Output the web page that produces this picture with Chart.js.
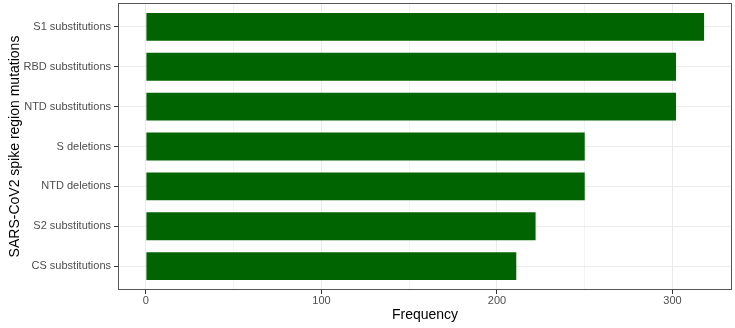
<!DOCTYPE html>
<html>
<head>
<meta charset="utf-8">
<title>SARS-CoV2 spike region mutations</title>
<script src="https://cdn.jsdelivr.net/npm/chart.js@4/dist/chart.umd.min.js"></script>
<style>
    html, body { margin: 0; padding: 0; background: #fff; }
    #chart { display: block; }
</style>
</head>
<body>
<canvas id="chart" width="735" height="328"></canvas>
<script>
/****************** DONNEES **********************/

var categories = ["S1 substitutions", "RBD substitutions", "NTD substitutions", "S deletions",
                  "NTD deletions", "S2 substitutions", "CS substitutions"];
var frequencies = [318, 302, 302, 250, 250, 222, 211];
var xMajorTicks = [0, 100, 200, 300];
var xMinorTicks = [50, 150, 250];

/****************** FONCTION **********************/

// cadre du panneau, comme theme_bw
var panelBorder = {
    id: 'panelBorder',
    afterDatasetsDraw: function (chart) {
        var a = chart.chartArea;
        var ctx = chart.ctx;
        ctx.save();
        ctx.strokeStyle = '#555555';
        ctx.lineWidth = 1;
        ctx.strokeRect(Math.round(a.left) + 0.5, Math.round(a.top) + 0.5,
                       Math.round(a.right - a.left) - 1, Math.round(a.bottom - a.top) - 1);
        ctx.restore();
    }
};

function makeMutationChart()
{
    var ctx = document.getElementById("chart").getContext("2d");
    var allX = xMajorTicks.concat(xMinorTicks).sort(function (a, b) { return a - b; });
    var xMax = Math.max.apply(null, frequencies);
    var xPad = xMax * 0.05;

    new Chart(ctx, {
        type: 'bar',
        data: {
            datasets: [{
                data: frequencies.map(function (v, i) { return { x: v, y: i }; }),
                backgroundColor: '#006400',
                borderWidth: 0,
                categoryPercentage: 1,
                barPercentage: 0.7
            }]
        },
        plugins: [panelBorder],
        options: {
            indexAxis: 'y',
            responsive: false,
            animation: false,
            layout: { padding: { top: 3, right: 3, left: 0, bottom: 0 } },
            plugins: {
                legend: { display: false },
                tooltip: { enabled: false }
            },
            scales: {
                x: {
                    type: 'linear',
                    min: -xPad,
                    max: xMax + xPad,
                    afterBuildTicks: function (scale) {
                        scale.ticks = allX.map(function (v) { return { value: v }; });
                    },
                    grid: {
                        color: function (c) {
                            return xMajorTicks.indexOf(c.tick.value) >= 0 ? '#ebebeb' : '#f3f3f3';
                        },
                        tickColor: function (c) {
                            return xMajorTicks.indexOf(c.tick.value) >= 0 ? '#333333' : 'rgba(0,0,0,0)';
                        },
                        tickLength: 4
                    },
                    border: { display: false },
                    ticks: {
                        autoSkip: false,
                        maxRotation: 0,
                        padding: 0,
                        color: '#4d4d4d',
                        font: { family: 'Liberation Sans, Arial, sans-serif', size: 11 },
                        callback: function (v) {
                            return xMajorTicks.indexOf(v) >= 0 ? String(v) : '';
                        }
                    },
                    title: {
                        display: true,
                        text: 'Frequency',
                        color: '#000',
                        font: { family: 'Liberation Sans, Arial, sans-serif', size: 14 },
                        padding: { top: 0, bottom: 4 }
                    }
                },
                y: {
                    type: 'linear',
                    reverse: true,
                    offset: false,
                    min: -0.6,
                    max: categories.length - 0.4,
                    afterBuildTicks: function (scale) {
                        scale.ticks = categories.map(function (c, i) { return { value: i }; });
                    },
                    afterFit: function (scale) {
                        scale.width = 118;
                        scale.paddingTop = 0;
                        scale.paddingBottom = 0;
                    },
                    grid: {
                        offset: false,
                        color: '#ebebeb',
                        tickColor: '#333333',
                        tickLength: 4
                    },
                    border: { display: false },
                    ticks: {
                        autoSkip: false,
                        padding: 3,
                        color: '#4d4d4d',
                        font: { family: 'Liberation Sans, Arial, sans-serif', size: 11 },
                        callback: function (v) {
                            return categories[v] !== undefined ? categories[v] : '';
                        }
                    },
                    title: {
                        display: true,
                        text: 'SARS-CoV2 spike region mutations',
                        color: '#000',
                        font: { family: 'Liberation Sans, Arial, sans-serif', size: 14 },
                        padding: { top: 7, bottom: 4 }
                    }
                }
            }
        }
    });
}

makeMutationChart();
</script>
</body>
</html>
